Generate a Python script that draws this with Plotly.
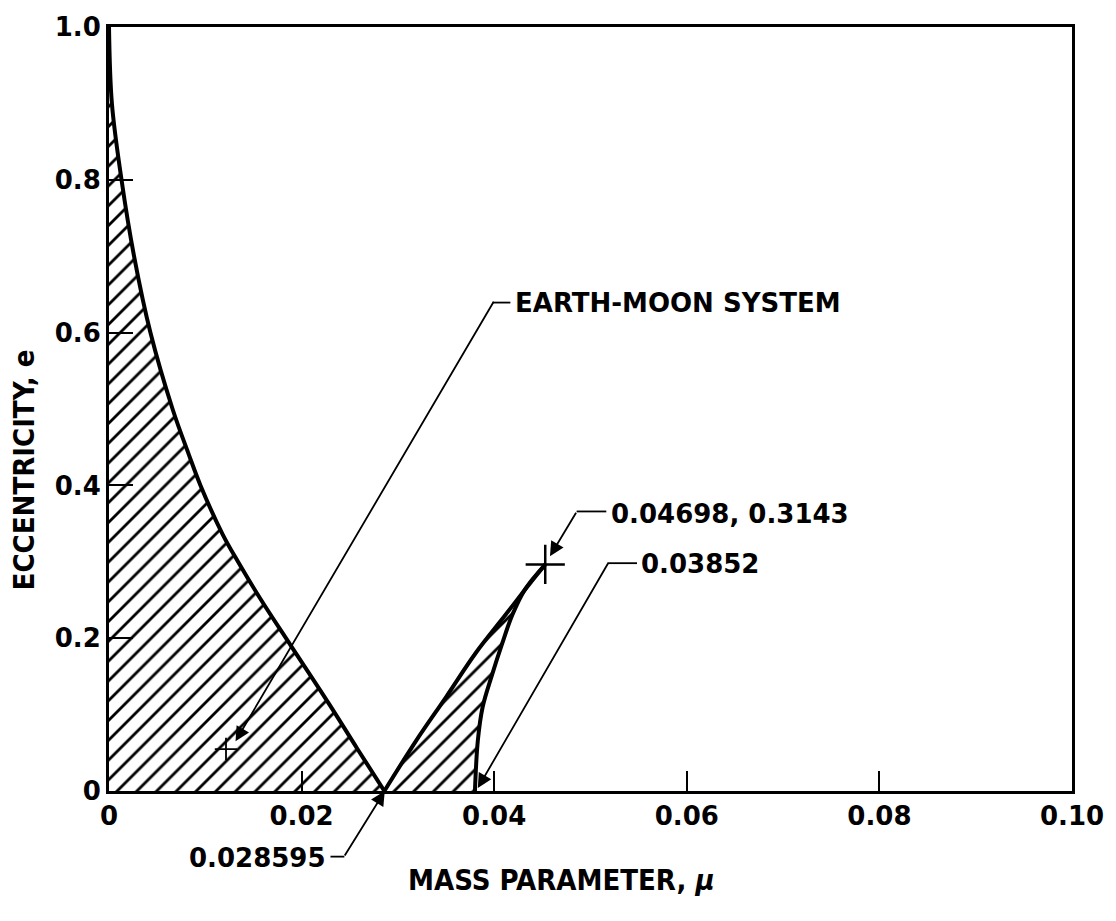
import plotly.graph_objects as go

# ---- data ----
left_mu = [0.0, 0.0003, 0.0013, 0.0026, 0.0043, 0.0066, 0.0083, 0.0095, 0.0118, 0.0134, 0.0158, 0.0189, 0.0228, 0.0258, 0.028595]
left_e = [1.0, 0.90, 0.80, 0.70, 0.60, 0.50, 0.44, 0.40, 0.336, 0.30, 0.25, 0.19, 0.115, 0.055, 0.0]

upper_mu = [0.028595, 0.0319, 0.0350, 0.0381, 0.0412, 0.0436, 0.0453]
upper_e = [0.0, 0.066, 0.123, 0.181, 0.231, 0.270, 0.2965]

lower_mu = [0.0453, 0.0432, 0.0419, 0.0408, 0.0398, 0.0388, 0.0383, 0.0380]
lower_e = [0.2965, 0.264, 0.231, 0.192, 0.153, 0.110, 0.066, 0.0]

earth_moon_mu = [0.01215]
earth_moon_e = [0.0549]
cusp_mu = [0.0453]
cusp_e = [0.2965]

x_ticks = [0, 0.02, 0.04, 0.06, 0.08, 0.10]
x_tick_text = ["0", "0.02", "0.04", "0.06", "0.08", "0.10"]
y_ticks = [0, 0.2, 0.4, 0.6, 0.8, 1.0]
y_tick_text = ["0", "0.2", "0.4", "0.6", "0.8", "1.0"]

label_earth_moon = "EARTH-MOON SYSTEM"
label_mu0 = "0.028595"
label_cusp = "0.04698, 0.3143"
label_mu1 = "0.03852"
x_title = "MASS PARAMETER, <i>μ</i>"
y_title = "ECCENTRICITY, e"

FONT = "DejaVu Sans"
TFONT = "Liberation Sans Narrow, DejaVu Sans Condensed, Liberation Sans"
pattern = dict(shape="/", size=14, solidity=0.2, fgcolor="black", fgopacity=1,
               bgcolor="white", fillmode="replace")

fig = go.Figure()

# hatched stable regions
fig.add_trace(go.Scatter(x=[0.0] + left_mu, y=[0.0] + left_e, mode="lines",
                         fill="toself", fillcolor="white", fillpattern=pattern,
                         line=dict(width=0, color="black", shape="spline", smoothing=1.0),
                         hoverinfo="skip"))
fig.add_trace(go.Scatter(x=upper_mu + lower_mu[1:], y=upper_e + lower_e[1:], mode="lines",
                         fill="toself", fillcolor="white", fillpattern=pattern,
                         line=dict(width=0, color="black"), hoverinfo="skip"))

# boundary curves
for xs, ys in ((left_mu, left_e), (upper_mu, upper_e), (lower_mu, lower_e)):
    fig.add_trace(go.Scatter(x=xs, y=ys, mode="lines",
                             line=dict(width=4, color="black", shape="spline", smoothing=1.0)))

# markers
fig.add_trace(go.Scatter(x=earth_moon_mu, y=earth_moon_e, mode="markers",
                         marker=dict(symbol="cross-thin", size=16, line=dict(width=1.8, color="black"))))
fig.add_trace(go.Scatter(x=cusp_mu, y=cusp_e, mode="markers",
                         marker=dict(symbol="cross-thin", size=28, line=dict(width=2.5, color="black"))))

axis_common = dict(showgrid=False, zeroline=False, showline=True, linecolor="black",
                   linewidth=3, mirror=True, ticks="inside", tickcolor="black",
                   tickwidth=2, tickfont=dict(family=FONT, size=26, color="black", weight="bold"))
fig.update_xaxes(range=[0, 0.1], tickvals=x_ticks, ticktext=x_tick_text, ticklen=20, **axis_common)
fig.update_yaxes(range=[0, 1.0], tickvals=y_ticks, ticktext=y_tick_text, ticklen=24, **axis_common)

ann = []
shapes = []
arrow = dict(showarrow=True, arrowhead=2, arrowsize=1.6, arrowwidth=1.8, arrowcolor="black",
             text="", xref="paper", yref="paper", axref="pixel", ayref="pixel")
txt = dict(showarrow=False, xref="paper", yref="paper",
           font=dict(family=FONT, size=26, color="black", weight="bold"))

def leader(x0, x1, y):
    shapes.append(dict(type="line", xref="paper", yref="paper", x0=x0, x1=x1, y0=y, y1=y,
                       line=dict(color="black", width=1.8)))

# Earth-Moon system
ann.append(dict(x=0.1314, y=0.0651, ax=259, ay=-441, **arrow))
leader(0.3984, 0.4168, 0.6393)
ann.append(dict(x=0.4199, y=0.6393, text=label_earth_moon, xanchor="left", yanchor="middle", **txt))

# 0.028595
ann.append(dict(x=0.2864, y=0.0, ax=-41, ay=66, **arrow))
leader(0.2300, 0.2444, -0.0859)
ann.append(dict(x=0.2269, y=-0.0872, text=label_mu0, xanchor="right", yanchor="middle", **txt))

# cusp
ann.append(dict(x=0.4579, y=0.3073, ax=27, ay=-45, **arrow))
leader(0.4856, 0.5164, 0.3659)
ann.append(dict(x=0.5195, y=0.362, text=label_cusp, xanchor="left", yanchor="middle", **txt))

# 0.03852
ann.append(dict(x=0.3830, y=0.0039, ax=131, ay=-226, **arrow))
leader(0.5175, 0.5483, 0.2982)
ann.append(dict(x=0.5503, y=0.2969, text=label_mu1, xanchor="left", yanchor="middle", **txt))

# axis titles
ann.append(dict(x=0.47, y=-0.117, text=x_title, xanchor="center", yanchor="middle",
                showarrow=False, xref="paper", yref="paper",
                font=dict(family=TFONT, size=29, color="black", weight="bold")))
ann.append(dict(x=-0.088, y=0.42, text=y_title, xanchor="center", yanchor="middle", textangle=-90,
                showarrow=False, xref="paper", yref="paper",
                font=dict(family=TFONT, size=29, color="black", weight="bold")))

fig.update_layout(width=1116, height=921, autosize=False,
                  margin=dict(l=109, r=33, t=23, b=130),
                  paper_bgcolor="white", plot_bgcolor="white", showlegend=False,
                  annotations=ann, shapes=shapes)

fig.write_html("out.html")
